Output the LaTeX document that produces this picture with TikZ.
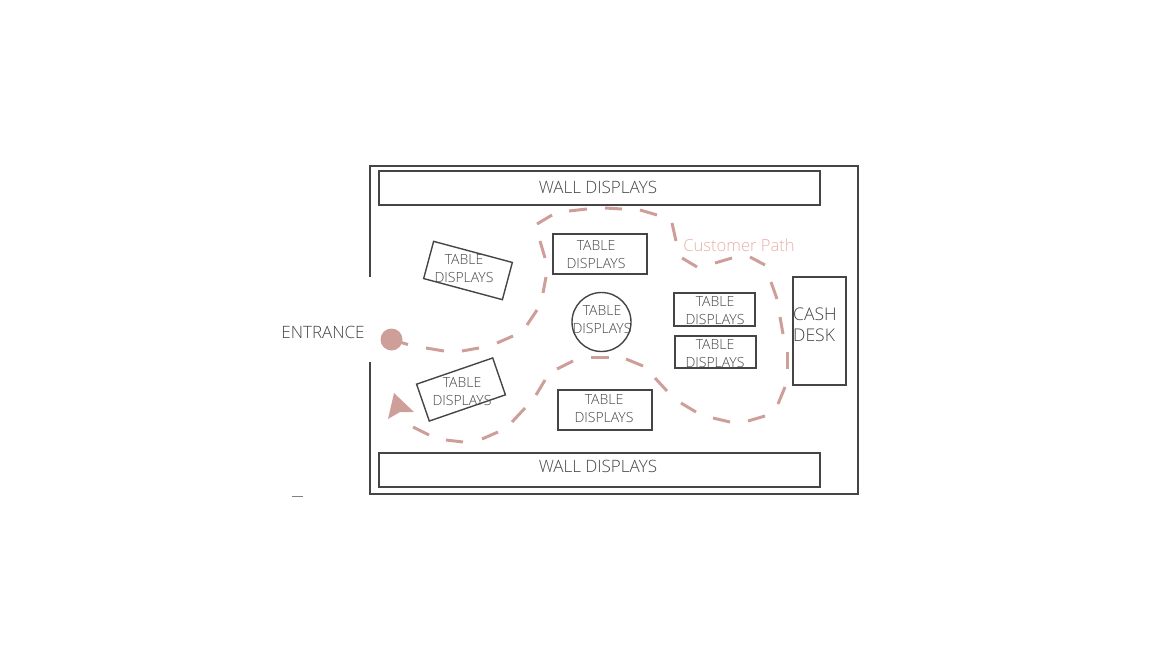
\documentclass[tikz,border=0pt]{standalone}
\usepackage{fontspec}
\setmainfont{Open Sans Light}
\definecolor{wallgray}{HTML}{454545}
\definecolor{textgray}{HTML}{444444}
\definecolor{pathrose}{HTML}{CE9F99}
\definecolor{labelrose}{HTML}{E8AFA6}
\tikzset{
  wall/.style={draw=wallgray,line width=1.7pt},
  display/.style={draw=wallgray,line width=1.4pt,inner sep=0pt},
  lbl/.style={text=textgray,align=center,inner sep=0pt,font=\fontsize{14}{18}\selectfont},
  biglbl/.style={text=textgray,align=center,inner sep=0pt,font=\fontsize{17}{21}\selectfont},
}
\begin{document}
\begin{tikzpicture}[x=1pt,y=-1pt]
\useasboundingbox (0,0) rectangle (1170,648);
% shop walls
\draw[wall] (370.3,277) -- (370.3,166) -- (858,166) -- (858,494) -- (370.3,494) -- (370.3,362);
% wall displays
\node[display,minimum width=441pt,minimum height=34pt] (walltop) at (599.5,188) {};
\node[display,minimum width=441pt,minimum height=34pt] (wallbot) at (599.5,470) {};
\node[biglbl] at (598,187.5) {WALL DISPLAYS};
\node[biglbl] at (598,466.5) {WALL DISPLAYS};
% tables
\node[display,minimum width=81.5pt,minimum height=38.5pt,rotate=-15] (tablea) at (468,270.5) {};
\node[display,minimum width=80.5pt,minimum height=39pt,rotate=19] (tableb) at (461,389.5) {};
\node[display,minimum width=94pt,minimum height=40pt] (tablec) at (600,254) {};
\node[display,minimum width=94pt,minimum height=40pt] (tabled) at (605,410) {};
\node[display,minimum width=81pt,minimum height=33pt] (tablee) at (714.5,309.5) {};
\node[display,minimum width=81pt,minimum height=32pt] (tablef) at (715.5,352) {};
\node[display,circle,minimum size=59pt] (tableg) at (601.5,322) {};
\node[lbl] at (464,269) {TABLE\\DISPLAYS};
\node[lbl] at (462,392) {TABLE\\DISPLAYS};
\node[lbl] at (596,255) {TABLE\\DISPLAYS};
\node[lbl] at (604,409) {TABLE\\DISPLAYS};
\node[lbl] at (715,311) {TABLE\\DISPLAYS};
\node[lbl] at (715,354) {TABLE\\DISPLAYS};
\node[lbl] at (602,320) {TABLE\\DISPLAYS};
% cash desk
\node[display,minimum width=53pt,minimum height=108pt] (desk) at (819.5,331) {};
\node[biglbl,align=left,anchor=west,font=\fontsize{17.5}{21}\selectfont] at (793,324.5) {CASH\\DESK};
% entrance
\node[biglbl] at (323,332) {ENTRANCE};
% customer path
\node[circle,fill=pathrose,inner sep=0pt,minimum size=22pt] (start) at (391.5,339.5) {};
\node[biglbl,text=labelrose,font=\fontsize{16.6}{21}\selectfont] at (739,245.5) {Customer Path};
\foreach \xa/\ya/\xb/\yb in {
  401/342.5/408/344.5, 426/348/444/351, 462/351/479/348, 497/343/513/336,
  527/325/537/310, 543/293/546/277, 545/258/540/241, 537/224/552/215,
  569/211/587/209, 605/208/622/209, 640/210/657/215, 672/223/676/241,
  682/258/697/267, 715/263/732/258, 750/257/765/265, 771/282/777/299,
  780/317/783/334, 787/352/787/369, 785/387/778/404, 765/416/748/421,
  730/422/713/418, 696/412/681/403, 667/391/655/378, 643/366/626/359,
  609/357/591/357, 573/361/557/369, 545/380/536/395, 525/408/512/422,
  498/432/482/439, 463/442/446/440, 429/435/413/427}
  \draw[pathrose,line width=3pt] (\xa,\ya) -- (\xb,\yb);
\fill[pathrose] (394,393) -- (414,412) -- (400,412) -- (388,419) -- cycle;
% speck under the entrance
\draw[gray,line width=1pt] (292,496.5) -- (303,496.5);
\end{tikzpicture}
\end{document}
